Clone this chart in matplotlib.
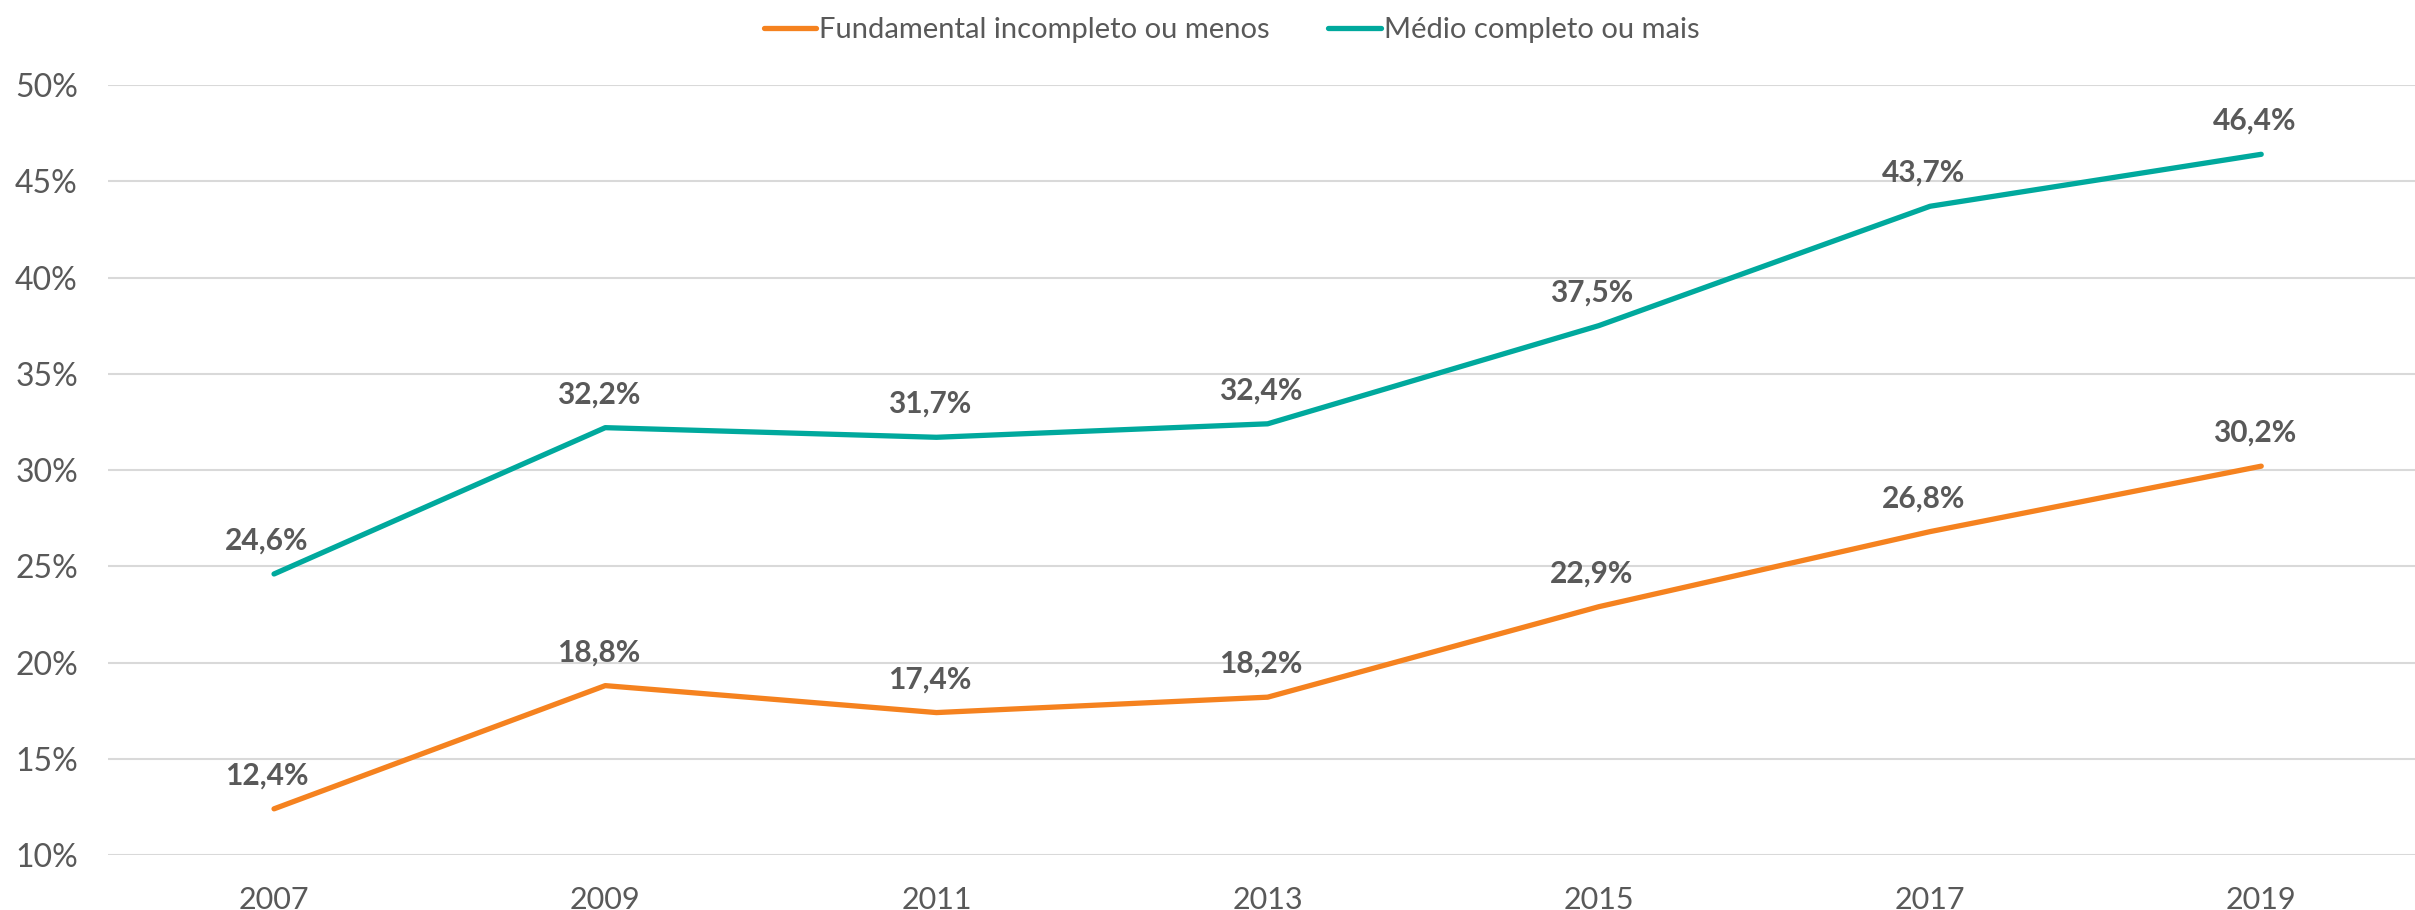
import matplotlib

matplotlib.use("Agg")
import matplotlib.pyplot as plt
from matplotlib.ticker import FuncFormatter, MultipleLocator

years = ["2007", "2009", "2011", "2013", "2015", "2017", "2019"]
fundamental = [12.4, 18.8, 17.4, 18.2, 22.9, 26.8, 30.2]
medio = [24.6, 32.2, 31.7, 32.4, 37.5, 43.7, 46.4]
series_names = ["Fundamental incompleto ou menos", "Médio completo ou mais"]

ORANGE = "#F5821F"
TEAL = "#00A99D"
TEXT = "#595959"

plt.rcParams.update(
    {
        "font.family": ["Lato", "DejaVu Sans"],
        "font.size": 22,
        "text.color": TEXT,
        "xtick.color": TEXT,
        "ytick.color": TEXT,
    }
)

fig = plt.figure(figsize=(24.15, 9.1), dpi=100)
ax = fig.add_axes([0.0449, 0.0604, 0.960, 0.8462])

x = list(range(len(years)))
for values, colour, name in zip([fundamental, medio], [ORANGE, TEAL], series_names):
    ax.plot(x, values, color=colour, lw=3.8, solid_capstyle="round", label=name, zorder=3)
    for xi, v in zip(x, values):
        ax.annotate(
            f"{v:.1f}%".replace(".", ","),
            (xi, v),
            xytext=(-5, 24),
            textcoords="offset points",
            ha="center",
            va="center",
            fontsize=21.5,
            fontweight="bold",
            color=TEXT,
        )

ax.set_xlim(-0.5, len(years) - 0.5)
ax.set_ylim(10, 50)
ax.set_xticks(x)
ax.set_xticklabels(years)
ax.yaxis.set_major_locator(MultipleLocator(5))
ax.yaxis.set_major_formatter(FuncFormatter(lambda v, _: f"{v:.0f}%"))
ax.grid(axis="y", color="#D9D9D9", lw=1.5)
ax.set_axisbelow(True)
for spine in ax.spines.values():
    spine.set_visible(False)
ax.tick_params(axis="both", length=0, labelsize=22)
ax.tick_params(axis="y", labelsize=23, pad=22)
ax.tick_params(axis="x", pad=22)

fig.legend(
    loc="upper center",
    bbox_to_anchor=(0.51, 1.01),
    ncols=2,
    frameon=False,
    fontsize=21,
    handlelength=1.8,
    handletextpad=0.1,
    columnspacing=2.0,
)

fig.savefig("out.png", dpi=100)
plt.close(fig)
